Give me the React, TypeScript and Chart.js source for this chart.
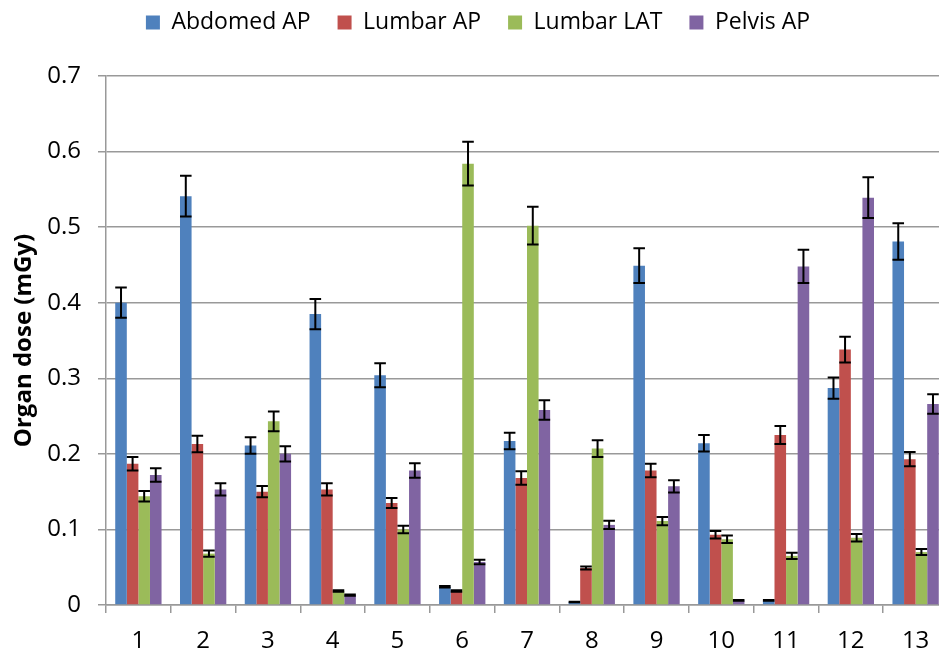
import React, { useEffect, useRef } from 'react';
import { Chart, registerables } from 'chart.js';

Chart.register(...registerables);

const categories = ['1', '2', '3', '4', '5', '6', '7', '8', '9', '10', '11', '12', '13'];

const seriesNames = ['Abdomed AP', 'Lumbar AP', 'Lumbar LAT', 'Pelvis AP'];
const seriesColors = ['#4F81BD', '#C0504D', '#9BBB59', '#8064A2'];

const abdomedAP = [0.400, 0.541, 0.211, 0.385, 0.304, 0.024, 0.217, 0.004, 0.449, 0.214, 0.006, 0.287, 0.481];
const abdomedAPErr = [0.020, 0.027, 0.011, 0.020, 0.016, 0.001, 0.011, 0.0004, 0.023, 0.011, 0.0005, 0.014, 0.024];

const lumbarAP = [0.187, 0.213, 0.150, 0.153, 0.135, 0.0185, 0.168, 0.049, 0.178, 0.093, 0.225, 0.338, 0.193];
const lumbarAPErr = [0.009, 0.011, 0.0075, 0.008, 0.0065, 0.001, 0.009, 0.002, 0.009, 0.005, 0.012, 0.017, 0.0095];

const lumbarLAT = [0.144, 0.068, 0.243, 0.0185, 0.100, 0.584, 0.502, 0.207, 0.111, 0.087, 0.065, 0.089, 0.070];
const lumbarLATErr = [0.007, 0.004, 0.013, 0.001, 0.005, 0.029, 0.025, 0.011, 0.0055, 0.005, 0.004, 0.005, 0.004];

const pelvisAP = [0.172, 0.153, 0.200, 0.013, 0.178, 0.057, 0.258, 0.106, 0.157, 0.006, 0.448, 0.539, 0.266];
const pelvisAPErr = [0.009, 0.008, 0.010, 0.0008, 0.0095, 0.003, 0.013, 0.0055, 0.008, 0.0005, 0.022, 0.027, 0.013];

const yAxisTitle = 'Organ dose (mGy)';
const yMin = 0;
const yMax = 0.7;
const yStep = 0.1;

const seriesValues = [abdomedAP, lumbarAP, lumbarLAT, pelvisAP];
const seriesErrors = [abdomedAPErr, lumbarAPErr, lumbarLATErr, pelvisAPErr];

const FONT = "'Open Sans', 'DejaVu Sans', sans-serif";

const errorBarPlugin = {
  id: 'errorBars',
  afterDatasetsDraw(chart: any) {
    const ctx = chart.ctx;
    const yScale = chart.scales.y;
    ctx.save();
    ctx.strokeStyle = '#000000';
    ctx.lineWidth = 2;
    chart.data.datasets.forEach((ds: any, i: number) => {
      const meta = chart.getDatasetMeta(i);
      const errs: number[] = ds.errors || [];
      meta.data.forEach((bar: any, j: number) => {
        const v = ds.data[j];
        const e = errs[j] || 0;
        const yt = yScale.getPixelForValue(v + e);
        const yb = yScale.getPixelForValue(Math.max(v - e, 0));
        const half = bar.width / 2;
        ctx.beginPath();
        ctx.moveTo(bar.x, yt);
        ctx.lineTo(bar.x, yb);
        ctx.moveTo(bar.x - half, yt);
        ctx.lineTo(bar.x + half, yt);
        ctx.moveTo(bar.x - half, yb);
        ctx.lineTo(bar.x + half, yb);
        ctx.stroke();
      });
    });
    ctx.restore();
  },
};

export default function App() {
  const canvasRef = useRef<HTMLCanvasElement | null>(null);

  useEffect(() => {
    if (!canvasRef.current) return;
    const chart = new Chart(canvasRef.current, {
      type: 'bar',
      data: {
        labels: categories,
        datasets: seriesNames.map((name, i) => ({
          label: name,
          data: seriesValues[i],
          errors: seriesErrors[i],
          backgroundColor: seriesColors[i],
          borderWidth: 0,
          barPercentage: 1,
          categoryPercentage: 0.715,
        })) as any,
      },
      options: {
        responsive: false,
        animation: false,
        devicePixelRatio: 1,
        layout: {
          padding: { top: -16, left: 8, right: 0, bottom: 0 },
        },
        plugins: {
          legend: {
            display: true,
            position: 'top',
            align: 'center',
            labels: {
              boxWidth: 14,
              boxHeight: 14,
              padding: 27,
              color: '#000000',
              font: { family: FONT, size: 23 },
            },
          },
          title: {
            display: true,
            text: '',
            weight: 500,
            font: { size: 10, lineHeight: 1 },
            padding: { top: 22, bottom: 0 },
          } as any,
          tooltip: { enabled: false },
        },
        scales: {
          x: {
            grid: {
              display: true,
              drawOnChartArea: false,
              drawTicks: true,
              tickLength: 8,
              color: '#999999',
              lineWidth: 1.5,
              offset: true,
            },
            border: { display: true, color: '#999999', width: 1.5 },
            ticks: {
              color: '#000000',
              font: { family: FONT, size: 24 },
              padding: 14,
              maxRotation: 0,
              autoSkip: false,
            },
            afterFit: (scale: any) => {
              scale.height = 48;
            },
          },
          y: {
            min: yMin,
            max: yMax,
            grid: {
              display: true,
              drawOnChartArea: true,
              drawTicks: true,
              tickLength: 8,
              color: '#999999',
              lineWidth: 1.5,
            },
            border: { display: true, color: '#999999', width: 1.5 },
            ticks: {
              stepSize: yStep,
              color: '#000000',
              font: { family: FONT, size: 24 },
              padding: 17,
              callback: (value: any) => (Number(value) === 0 ? '0' : Number(value).toFixed(1)),
            },
            title: {
              display: true,
              text: yAxisTitle,
              color: '#000000',
              font: { family: FONT, size: 24, weight: 'bold' },
              padding: { top: 2, bottom: 0 },
            },
            afterFit: (scale: any) => {
              scale.width = 98;
            },
          },
        },
      },
      plugins: [errorBarPlugin],
    });
    return () => {
      chart.destroy();
    };
  }, []);

  return (
    <div
      style={{
        position: 'absolute',
        left: 0,
        top: 0,
        width: 939,
        height: 653,
        overflow: 'hidden',
        background: '#ffffff',
      }}
    >
      <canvas ref={canvasRef} width={948} height={653} style={{ width: 948, height: 653, display: 'block' }} />
    </div>
  );
}
